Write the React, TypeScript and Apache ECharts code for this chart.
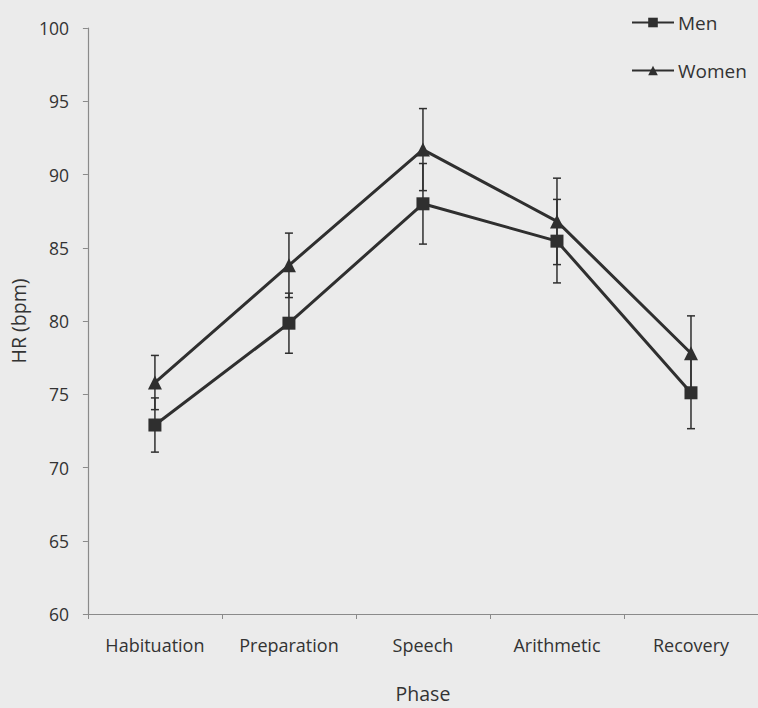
import React, { useEffect, useRef } from "react";
import * as echarts from "echarts";

const categories = ["Habituation", "Preparation", "Speech", "Arithmetic", "Recovery"];
const menMean = [72.9, 79.85, 88.0, 85.45, 75.1];
const menSE = [1.85, 2.05, 2.75, 2.85, 2.45];
const womenMean = [75.8, 83.8, 91.7, 86.8, 77.8];
const womenSE = [1.85, 2.2, 2.8, 2.95, 2.55];

const INK = "#2f2f2f";
const AXIS = "#8a8a8a";
const LABEL = "#333333";
const FONT = "Open Sans";

function errData(mean: number[], se: number[]) {
  return mean.map((m, i) => [i, m - se[i], m + se[i]]);
}

function errSeries(name: string, mean: number[], se: number[]) {
  return {
    type: "custom",
    name: name + " SE",
    data: errData(mean, se),
    z: 1,
    silent: true,
    renderItem: (params: any, api: any) => {
      const x = api.value(0);
      const lo = api.coord([x, api.value(1)]);
      const hi = api.coord([x, api.value(2)]);
      const w = 4;
      const style = { stroke: INK, lineWidth: 1.5 };
      return {
        type: "group",
        children: [
          { type: "line", shape: { x1: lo[0], y1: lo[1], x2: hi[0], y2: hi[1] }, style },
          { type: "line", shape: { x1: lo[0] - w, y1: lo[1], x2: lo[0] + w, y2: lo[1] }, style },
          { type: "line", shape: { x1: hi[0] - w, y1: hi[1], x2: hi[0] + w, y2: hi[1] }, style },
        ],
      };
    },
  };
}

export default function App() {
  const ref = useRef<HTMLDivElement>(null);
  useEffect(() => {
    document.body.style.margin = "0";
    const chart = echarts.init(ref.current!, null, { renderer: "svg" });
    chart.setOption({
      animation: false,
      backgroundColor: "#ebebeb",
      textStyle: { fontFamily: FONT },
      grid: { left: 78, right: -6, top: 28, bottom: 83 },
      legend: {
        orient: "vertical",
        left: 631,
        top: 13,
        padding: 0,
        itemWidth: 42,
        itemHeight: 12,
        itemGap: 29,
        data: ["Men", "Women"],
        textStyle: { fontFamily: FONT, fontSize: 19, color: LABEL, padding: [0, 0, 0, -1] },
      },
      xAxis: {
        type: "category",
        data: categories,
        name: "Phase",
        nameLocation: "middle",
        nameGap: 69,
        nameTextStyle: { fontFamily: FONT, fontSize: 19.5, color: LABEL },
        axisLine: { lineStyle: { color: AXIS, width: 1.2 } },
        axisTick: { show: true, length: 5, lineStyle: { color: AXIS } },
        axisLabel: { fontFamily: FONT, fontSize: 18, color: LABEL, margin: 22 },
        splitLine: { show: false },
      },
      yAxis: {
        type: "value",
        min: 60,
        max: 100,
        interval: 5,
        name: "HR (bpm)",
        nameLocation: "middle",
        nameGap: 46,
        nameTextStyle: { fontFamily: FONT, fontSize: 19.5, color: LABEL },
        axisLine: { show: true, lineStyle: { color: AXIS, width: 1.2 } },
        axisTick: { show: true, length: 5, lineStyle: { color: AXIS } },
        axisLabel: { fontFamily: FONT, fontSize: 17.5, color: LABEL, margin: 19 },
        splitLine: { show: false },
      },
      series: [
        errSeries("Men", menMean, menSE),
        errSeries("Women", womenMean, womenSE),
        {
          type: "line",
          name: "Men",
          data: menMean,
          z: 3,
          symbol: "rect",
          symbolSize: 13,
          lineStyle: { color: INK, width: 3 },
          itemStyle: { color: INK },
        },
        {
          type: "line",
          name: "Women",
          data: womenMean,
          z: 3,
          symbol: "triangle",
          symbolSize: 14,
          lineStyle: { color: INK, width: 3 },
          itemStyle: { color: INK },
        },
      ],
    });
    return () => chart.dispose();
  }, []);
  return <div ref={ref} style={{ width: 758, height: 708 }} />;
}
